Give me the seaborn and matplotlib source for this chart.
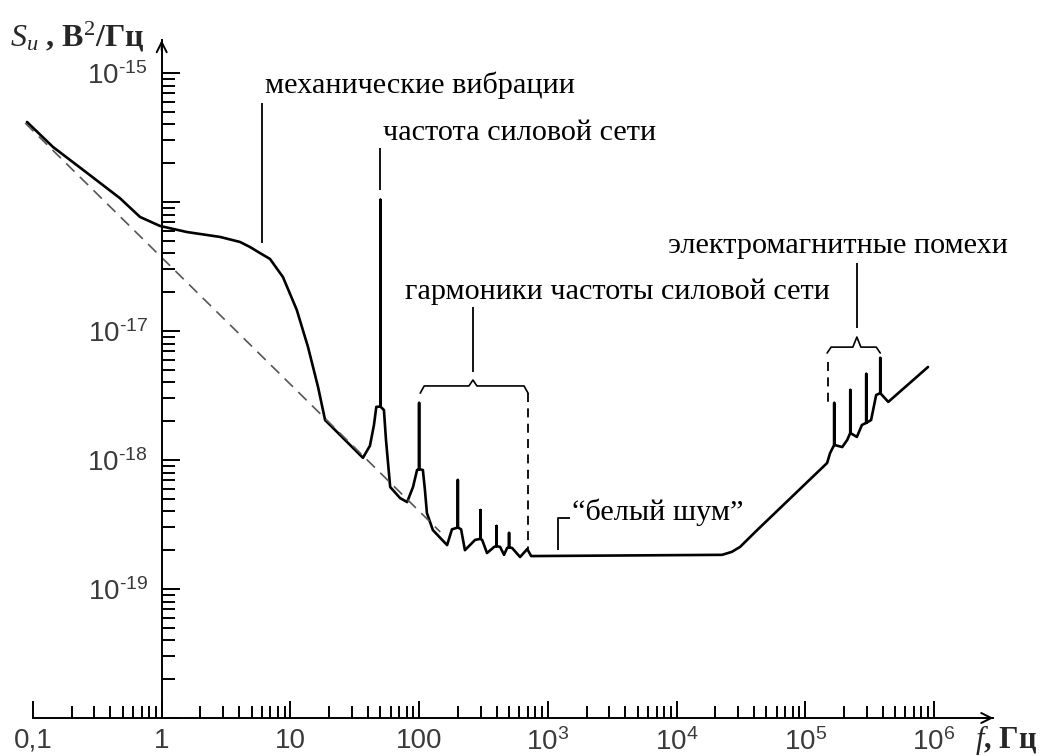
import matplotlib
matplotlib.use("Agg")
import matplotlib.pyplot as plt
from matplotlib import font_manager
from matplotlib.font_manager import FontProperties
from matplotlib.ticker import FixedLocator, NullFormatter
import numpy as np
import seaborn as sns

# spectrum (Hz, V^2/Hz); repeated f = narrow line
spectrum_f = [0.0898, 0.143, 0.263, 0.474, 0.678, 0.97, 1.57, 2.84, 4.06, 4.85,
              5.80, 6.94, 8.75, 11.2, 13.7, 16.4, 18.6, 20.3, 36.6, 41.5,
              44.6, 46.5, 50, 50, 50, 53.3, 55.3, 59.6, 71.1, 80.7,
              89.7, 96.4, 100, 100, 100, 107, 111, 115, 128, 165,
              180, 200, 200, 200, 212, 227, 272, 300, 300, 300,
              309, 337, 383, 400, 400, 400, 426, 457, 483, 500,
              500, 500, 528, 609, 692, 743, 2.26e4, 2.69e4, 3.12e4, 4.23e4,
              1.48e5, 1.56e5, 1.68e5, 1.68e5, 1.68e5, 1.94e5, 2.12e5, 2.24e5, 2.24e5, 2.24e5,
              2.52e5, 2.76e5, 2.98e5, 2.98e5, 2.98e5, 3.25e5, 3.56e5, 3.83e5, 3.83e5, 3.83e5,
              4.42e5, 9.0e5]
spectrum_s = [4.17e-16, 2.67e-16, 1.68e-16, 1.07e-16, 7.66e-17, 6.52e-17, 5.85e-17, 5.36e-17, 4.90e-17, 4.48e-17,
              4.02e-17, 3.62e-17, 2.62e-17, 1.46e-17, 7.52e-18, 3.68e-18, 2.04e-18, 1.87e-18, 1.04e-18, 1.29e-18,
              1.87e-18, 2.58e-18, 2.6e-18, 1.04e-16, 2.6e-18, 2.44e-18, 1.43e-18, 6.18e-19, 5.07e-19, 4.72e-19,
              6.18e-19, 8.36e-19, 8.5e-19, 2.77e-18, 8.5e-19, 8.36e-19, 5.85e-19, 3.88e-19, 2.86e-19, 2.19e-19,
              2.9e-19, 3.0e-19, 7.0e-19, 3.0e-19, 2.9e-19, 2.0e-19, 2.4e-19, 2.45e-19, 4.09e-19, 2.45e-19,
              2.4e-19, 1.90e-19, 2.12e-19, 2.15e-19, 3.08e-19, 2.15e-19, 2.12e-19, 1.84e-19, 2.08e-19, 2.1e-19,
              2.72e-19, 2.1e-19, 2.08e-19, 1.77e-19, 2.04e-19, 1.80e-19, 1.84e-19, 1.94e-19, 2.12e-19, 2.86e-19,
              9.48e-19, 1.13e-18, 1.31e-18, 2.77e-18, 1.31e-18, 1.26e-18, 1.43e-18, 1.62e-18, 3.49e-18, 1.62e-18,
              1.51e-18, 1.87e-18, 1.94e-18, 4.65e-18, 1.94e-18, 2.04e-18, 3.19e-18, 3.3e-18, 6.18e-18, 3.3e-18,
              2.82e-18, 5.26e-18]

# dashed 1/f asymptote, end points
flicker_f = [0.087, 146]
flicker_s = [4.09e-16, 2.77e-19]

xtick_vals = [0.1, 1, 10, 100, 1e3, 1e4, 1e5, 1e6]
xtick_text = ["0,1", "1", "10", "100", r"$\mathsf{10^3}$", r"$\mathsf{10^4}$",
              r"$\mathsf{10^5}$", r"$\mathsf{10^6}$"]
ytick_vals = [1e-20, 1e-19, 1e-18, 1e-17, 1e-16, 1e-15]
ytick_text = ["", "$\\mathsf{10^{\u201019}}$", "$\\mathsf{10^{\u201018}}$",
              "$\\mathsf{10^{\u201017}}$", "", "$\\mathsf{10^{\u201015}}$"]


def pick_font(names):
    for n in names:
        try:
            font_manager.findfont(FontProperties(family=n), fallback_to_default=False)
            return n
        except ValueError:
            pass
    return "DejaVu Sans"


sns.set_style("white")
SANS = pick_font(["Liberation Sans Narrow", "Liberation Sans"])
SERIF = pick_font(["Liberation Serif", "DejaVu Serif"])
plt.rcParams["font.family"] = [SERIF, "DejaVu Serif"]
plt.rcParams["mathtext.fontset"] = "custom"
plt.rcParams["mathtext.rm"] = SERIF
plt.rcParams["mathtext.it"] = SERIF + ":italic"
plt.rcParams["mathtext.bf"] = SERIF + ":bold"
plt.rcParams["mathtext.sf"] = SANS

W, H = 1048, 756
# pixel layout of the reference: x=1 at 161.7 px, 128.7 px/decade; y=1e-15 at 73 px, 129 px/decade
XMIN, XMAX = 0.08, 2.9e6
YMIN, YMAX = 1e-20, 1.8e-15
x0 = 161.7 + 128.7 * np.log10(XMIN)
x1 = 161.7 + 128.7 * np.log10(XMAX)
y0 = 73 - 129 * (np.log10(YMIN) + 15)
y1 = 73 - 129 * (np.log10(YMAX) + 15)

fig = plt.figure(figsize=(W / 100, H / 100), dpi=100)
ax = fig.add_axes([x0 / W, (H - y0) / H, (x1 - x0) / W, (y0 - y1) / H])
ax.set_xscale("log")
ax.set_yscale("log")

sns.lineplot(x=spectrum_f, y=spectrum_s, sort=False, estimator=None,
             color="black", lw=1.9, ax=ax)
sns.lineplot(x=flicker_f, y=flicker_s, sort=False, estimator=None,
             color="#555555", lw=1.2, linestyle=(0, (7, 4.5)), ax=ax)

ax.set_xlim(XMIN, XMAX)
ax.set_ylim(YMIN, YMAX)

# axes as two arrows crossing at f = 1 Hz
for side in ("top", "right"):
    ax.spines[side].set_visible(False)
ax.spines["left"].set_position(("data", 1))
ax.spines["left"].set_bounds(YMIN, YMAX)
ax.spines["bottom"].set_bounds(0.1, XMAX)
for side in ("left", "bottom"):
    ax.spines[side].set_linewidth(1.4)
    ax.spines[side].set_color("black")
arrow = dict(arrowstyle="->", color="black", lw=1.4, mutation_scale=18,
             shrinkA=0, shrinkB=0)
ax.annotate("", xy=(XMAX, YMIN), xytext=(XMAX / 1.2, YMIN), arrowprops=arrow,
            annotation_clip=False)
ax.annotate("", xy=(1, YMAX), xytext=(1, YMAX / 1.2), arrowprops=arrow,
            annotation_clip=False)

ax.set_xticks(xtick_vals, xtick_text)
ax.set_yticks(ytick_vals, ytick_text)
ax.xaxis.set_minor_locator(FixedLocator([k * 10.0 ** d for d in range(-1, 6) for k in range(2, 10)]))
ax.yaxis.set_minor_locator(FixedLocator([k * 10.0 ** d for d in range(-20, -15) for k in range(2, 10)]))
ax.xaxis.set_minor_formatter(NullFormatter())
ax.yaxis.set_minor_formatter(NullFormatter())
ax.tick_params(which="both", direction="in", color="black", width=1.4,
               bottom=True, left=True, top=False, right=False,
               labelcolor="#3a3a3a", labelsize=20)
ax.tick_params(axis="x", which="major", length=12, pad=7)
ax.tick_params(axis="x", which="minor", length=8.5)
ax.tick_params(axis="y", which="major", length=13, pad=10)
ax.tick_params(axis="y", which="minor", length=9.3)
for lab in ax.get_xticklabels() + ax.get_yticklabels():
    lab.set_fontfamily(SANS)
ax.set_xlabel("")
ax.set_ylabel("")
ax.grid(False)

# axis titles
fig.text(10 / W, 1 - 47 / H, r"$S_u$ , В$^2$/Гц", fontsize=23, fontweight="bold",
         va="baseline", ha="left")
fig.text(975 / W, 1 - 748 / H, r"$f$, Гц", fontsize=22, fontweight="bold",
         va="baseline", ha="left")

# annotations
txt = dict(fontsize=21.8, color="black", va="baseline", ha="left")
ax.text(6.35, 7.0e-16, "механические вибрации", **txt)
ax.text(52.5, 3.03e-16, "частота силовой сети", **txt)
ax.text(77.6, 1.77e-17, "гармоники частоты силовой сети", **txt)
ax.text(8.6e3, 4.03e-17, "электромагнитные помехи", **txt)
ax.text(1546, 3.43e-19, "\u201cбелый шум\u201d", **txt)

lead = dict(color="black", lw=1.3, solid_capstyle="butt")
ax.plot([6.03, 6.03], [5.85e-16, 4.8e-17], **lead)
ax.plot([50, 50], [2.62e-16, 1.24e-16], **lead)
ax.plot([262, 262], [1.53e-17, 4.8e-18], **lead)
ax.plot([2.52e5, 2.52e5], [3.37e-17, 1.05e-17], **lead)
ax.plot([1205, 1205, 1493], [2.0e-19, 3.55e-19, 3.55e-19], **lead)


def brace(fl, fm, fr, s_hook, s_bar, s_tip):
    k = 10 ** (4 / 128.7)
    xs = [fl, fl * k, fm / k, fm, fm * k, fr / k, fr]
    ys = [s_hook, s_bar, s_bar, s_tip, s_bar, s_bar, s_hook]
    ax.plot(xs, ys, color="black", lw=1.2)


brace(102, 262, 702, 3.3e-18, 3.75e-18, 4.17e-18)
brace(1.48e5, 2.52e5, 3.83e5, 6.75e-18, 7.5e-18, 8.98e-18)
dash = dict(color="black", lw=1.3, linestyle=(0, (5, 3.5)))
ax.plot([702, 702], [3.3e-18, 2.04e-19], **dash)
ax.plot([1.51e5, 1.51e5], [5.75e-18, 2.8e-18], **dash)

fig.savefig("out.png", dpi=100)
